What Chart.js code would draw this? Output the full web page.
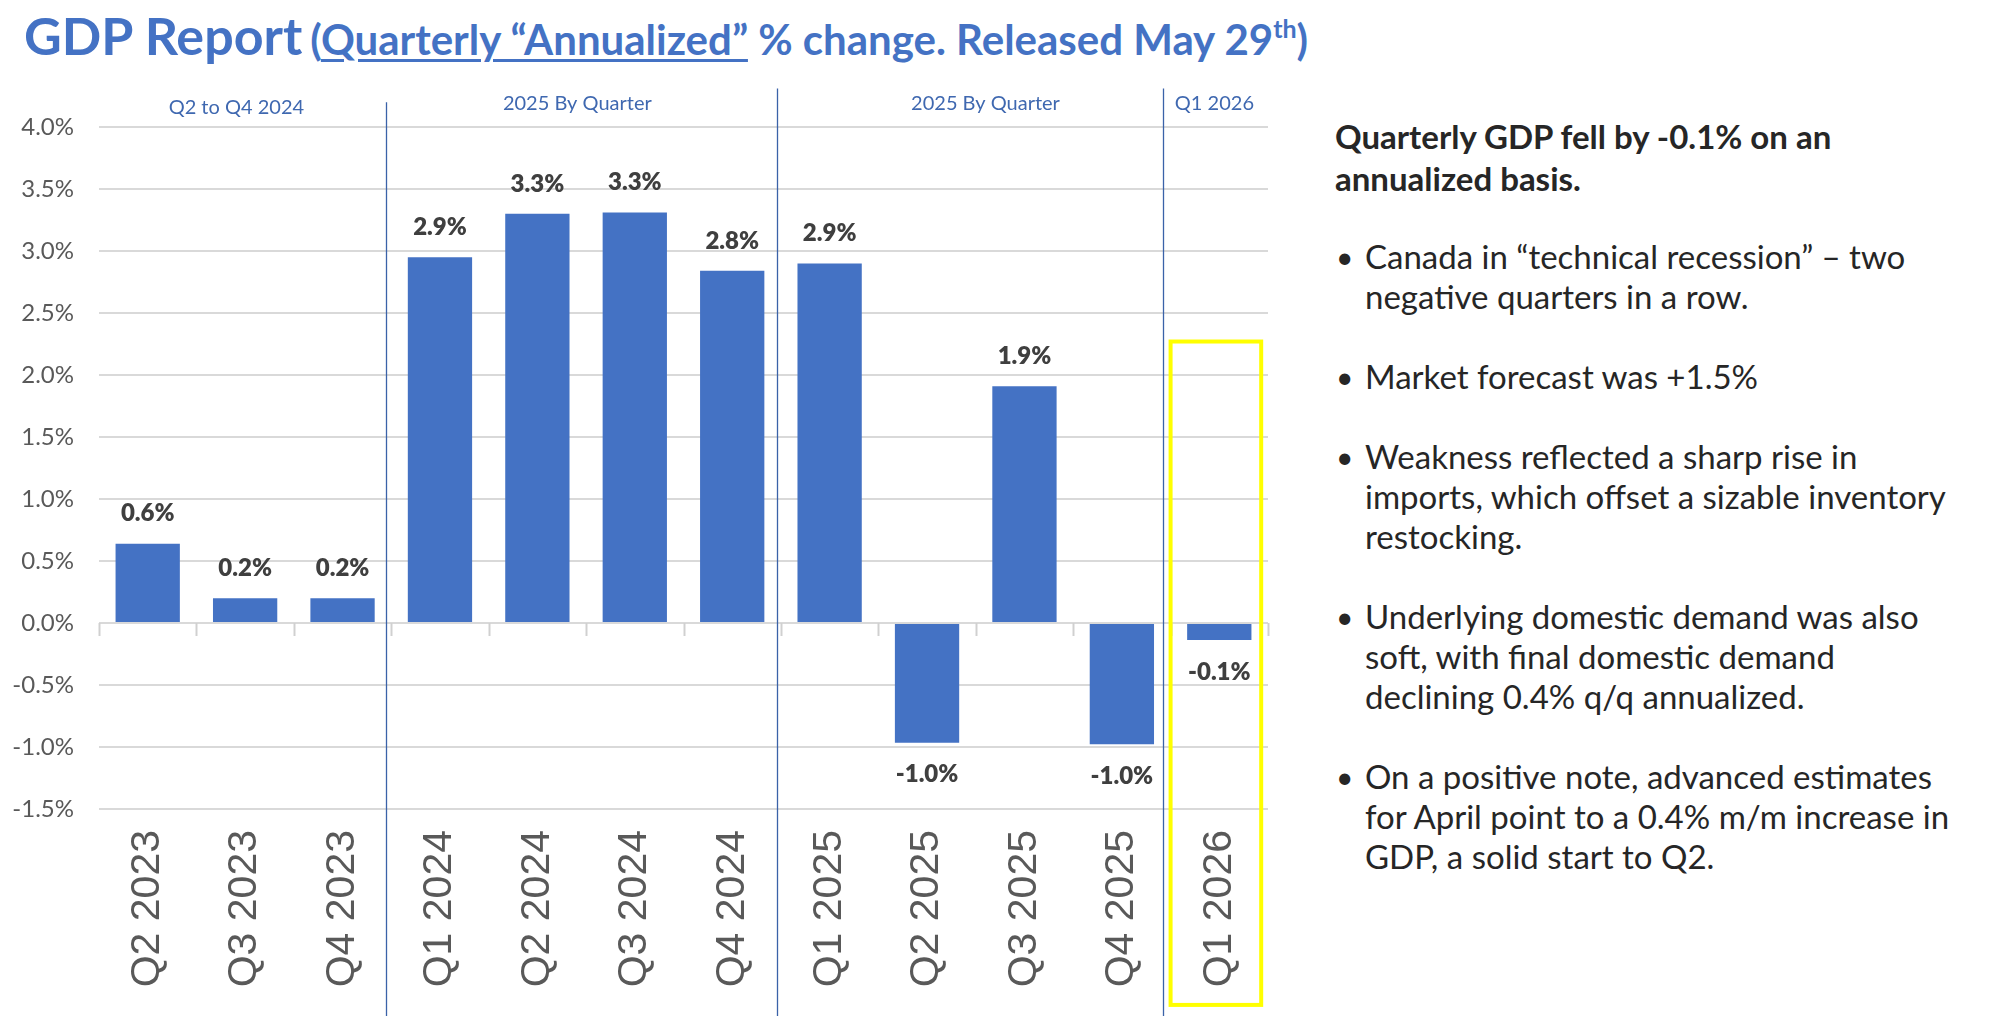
<!DOCTYPE html>
<html>
<head>
<meta charset="utf-8">
<script src="https://cdn.jsdelivr.net/npm/chart.js@4/dist/chart.umd.min.js"></script>
<style>
  html, body { margin: 0; padding: 0; background: #ffffff; }
  body { width: 1997px; height: 1016px; position: relative; overflow: hidden; font-family: "Lato", sans-serif; }
  #title { position: absolute; left: 24px; top: 4px; color: #4472C4; font-weight: 700; white-space: nowrap; }
  #title .big { font-size: 52px; }
  #title .sub { font-size: 42px; margin-left: 4px; }
  #title u { text-decoration-thickness: 3px; text-underline-offset: 4px; }
  #title sup { font-size: 25px; vertical-align: 17px; line-height: 0; }
  #chartWrap { position: absolute; left: 0; top: 0; width: 1330px; height: 1016px; }
  #panel { position: absolute; left: 1335px; top: 115px; width: 660px; color: #262626; }
  #panel .head { font-weight: 700; font-size: 33px; line-height: 42px; margin-bottom: 37px; }
  #panel ul { list-style: none; margin: 0; padding: 0; }
  #panel li { position: relative; padding-left: 30px; font-size: 33px; line-height: 40px; margin-bottom: 40px; }
  #panel li::before { content: "\2022"; position: absolute; left: 1px; top: 0; font-size: 30px; }
</style>
</head>
<body>
<div id="title"><span class="big">GDP Report</span> <span class="sub">(<u>Quarterly “Annualized”</u> % change. Released May 29<sup>th</sup>)</span></div>
<div id="chartWrap"><canvas id="c" width="1330" height="1016"></canvas></div>
<div id="panel">
  <div class="head">Quarterly GDP fell by -0.1% on an<br>annualized basis.</div>
  <ul>
    <li>Canada in “technical recession” – two<br>negative quarters in a row.</li>
    <li>Market forecast was +1.5%</li>
    <li>Weakness reflected a sharp rise in<br>imports, which offset a sizable inventory<br>restocking.</li>
    <li>Underlying domestic demand was also<br>soft, with final domestic demand<br>declining 0.4% q/q annualized.</li>
    <li>On a positive note, advanced estimates<br>for April point to a 0.4% m/m increase in<br>GDP, a solid start to Q2.</li>
  </ul>
</div>
<script>
// ---- Data ----
const quarters = ["Q2 2023","Q3 2023","Q4 2023","Q1 2024","Q2 2024","Q3 2024","Q4 2024","Q1 2025","Q2 2025","Q3 2025","Q4 2025","Q1 2026"];
const gdpValues = [0.64, 0.20, 0.20, 2.95, 3.30, 3.31, 2.84, 2.90, -0.965, 1.91, -0.978, -0.137];
const valueLabels = ["0.6%","0.2%","0.2%","2.9%","3.3%","3.3%","2.8%","2.9%","-1.0%","1.9%","-1.0%","-0.1%"];
const groupNames = ["Q2 to Q4 2024","2025 By Quarter","2025 By Quarter","Q1 2026"];
const yMin = -1.5, yMax = 4.0, yStep = 0.5;

// ---- Annotation placement (in scale units) ----
const groupLabelPos = [[0.91, 4.16],[4.41, 4.19],[8.6, 4.19],[10.95, 4.19]];
const separators = [[2.45, 4.2],[6.46, 4.31],[10.42, 4.31]];
const sepBottom = -3.25;
const highlightBox = {x0: 10.5, x1: 11.43, top: 2.27, bottom: -3.08};

const BLUE = "#4472C4";

const annotations = {
  id: "annotations",
  afterDatasetsDraw(chart) {
    const ctx = chart.ctx;
    const xs = chart.scales.x, ys = chart.scales.y;
    ctx.save();
    // zero-line tick marks at category boundaries
    const y0 = ys.getPixelForValue(0);
    ctx.strokeStyle = "#D0D0D0";
    ctx.lineWidth = 2;
    for (let i = 0; i <= quarters.length; i++) {
      const x = Math.round(xs.getPixelForValue(i - 0.5)) + 0.5;
      ctx.beginPath(); ctx.moveTo(x, y0); ctx.lineTo(x, y0 + 13); ctx.stroke();
    }
    // data labels
    const meta = chart.getDatasetMeta(0);
    ctx.font = "800 24px Lato";
    ctx.fillStyle = "#3F3F3F";
    ctx.textAlign = "center";
    ctx.textBaseline = "middle";
    meta.data.forEach((bar, i) => {
      const v = gdpValues[i];
      const y = v >= 0 ? bar.y - 30 : bar.y + 32;
      ctx.fillText(valueLabels[i], bar.x, y);
    });
    // separators
    ctx.strokeStyle = "#3A62A8";
    ctx.lineWidth = 1.3;
    separators.forEach(([xv, topv]) => {
      const x = Math.round(xs.getPixelForValue(xv)) + 0.5;
      ctx.beginPath(); ctx.moveTo(x, ys.getPixelForValue(topv)); ctx.lineTo(x, ys.getPixelForValue(sepBottom)); ctx.stroke();
    });
    // group labels
    ctx.font = "400 20px Lato";
    ctx.fillStyle = "#3F68B0";
    groupNames.forEach((name, i) => {
      const [xv, yv] = groupLabelPos[i];
      ctx.fillText(name, xs.getPixelForValue(xv), ys.getPixelForValue(yv));
    });
    // yellow highlight box
    ctx.strokeStyle = "#FFFF00";
    ctx.lineWidth = 4;
    const bx0 = xs.getPixelForValue(highlightBox.x0), bx1 = xs.getPixelForValue(highlightBox.x1);
    const by0 = ys.getPixelForValue(highlightBox.top), by1 = ys.getPixelForValue(highlightBox.bottom);
    ctx.strokeRect(bx0, by0, bx1 - bx0, by1 - by0);
    ctx.restore();
  }
};

new Chart(document.getElementById("c"), {
  type: "bar",
  data: {
    labels: quarters,
    datasets: [{
      data: gdpValues,
      backgroundColor: BLUE,
      borderWidth: 0,
      categoryPercentage: 1.0,
      barPercentage: 0.66
    }]
  },
  options: {
    responsive: false,
    animation: false,
    devicePixelRatio: 1,
    layout: { padding: { top: 127, right: 62, left: 0, bottom: 0 } },
    plugins: { legend: { display: false }, tooltip: { enabled: false }, title: { display: false } },
    scales: {
      x: {
        grid: { display: false, drawTicks: false },
        border: { display: false },
        ticks: {
          autoSkip: false, minRotation: 90, maxRotation: 90,
          padding: 21,
          color: "#595959",
          font: { family: "Liberation Sans", size: 41 }
        },
        afterFit(scale) { scale.height = 207; }
      },
      y: {
        min: yMin, max: yMax,
        grid: { color: "#D9D9D9", lineWidth: 2, drawTicks: false },
        border: { display: false },
        ticks: {
          stepSize: yStep,
          padding: 25,
          color: "#595959",
          font: { family: "Lato", size: 24 },
          callback: (v) => v.toFixed(1) + "%"
        },
        afterFit(scale) { scale.width = 99; }
      }
    }
  },
  plugins: [annotations]
});
</script>
</body>
</html>
